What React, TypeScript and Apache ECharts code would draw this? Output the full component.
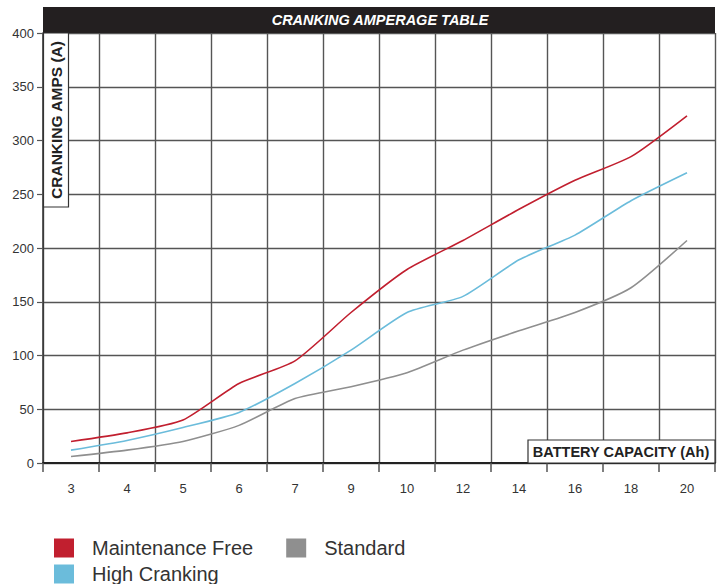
import React, { useEffect, useRef } from "react";
import * as echarts from "echarts";

const categories = ["3", "4", "5", "6", "7", "9", "10", "12", "14", "16", "18", "20"];
const maintenanceFree = [20, 28, 40, 74, 95, 140, 180, 207, 236, 263, 285, 323];
const highCranking = [12, 21, 33, 47, 74, 105, 140, 155, 189, 212, 244, 270];
const standard = [6, 12, 20, 35, 60, 71, 84, 105, 123, 140, 163, 207];

const FONT = "'Liberation Sans', Arial, sans-serif";

export default function App() {
  const ref = useRef<HTMLDivElement>(null);
  useEffect(() => {
    if (!ref.current) return;
    const chart = echarts.init(ref.current, undefined, { renderer: "svg" });
    chart.setOption({
      animation: false,
      backgroundColor: "#fff",
      textStyle: { fontFamily: FONT },
      grid: { left: 43, right: 11, top: 33, bottom: 121, containLabel: false },
      xAxis: {
        type: "category",
        data: categories,
        boundaryGap: true,
        axisLine: { show: true, lineStyle: { color: "#222", width: 2 } },
        axisTick: { show: true, length: 9, lineStyle: { color: "#555", width: 1.5 } },
        axisLabel: { color: "#333", fontSize: 13, margin: 19, fontFamily: FONT },
        splitLine: { show: true, lineStyle: { color: "#555", width: 1.4 } },
      },
      yAxis: {
        type: "value",
        min: 0,
        max: 400,
        interval: 50,
        axisLine: { show: true, lineStyle: { color: "#333", width: 1.5 } },
        axisTick: { show: true, length: 6, lineStyle: { color: "#555", width: 1.2 } },
        axisLabel: { color: "#333", fontSize: 13, margin: 9, fontFamily: FONT },
        splitLine: { show: true, lineStyle: { color: "#555", width: 1.4 } },
      },
      legend: [
        {
          data: ["Maintenance Free", "Standard"],
          left: 54,
          top: 538,
          padding: 0,
          orient: "horizontal",
          icon: "rect",
          itemWidth: 20,
          itemHeight: 19,
          itemGap: 33,
          selectedMode: false,
          textStyle: { color: "#333", fontSize: 20, fontFamily: FONT, padding: [0, 0, 0, 13] },
        },
        {
          data: ["High Cranking"],
          left: 54,
          top: 564,
          padding: 0,
          orient: "horizontal",
          icon: "rect",
          itemWidth: 20,
          itemHeight: 19,
          selectedMode: false,
          textStyle: { color: "#333", fontSize: 20, fontFamily: FONT, padding: [0, 0, 0, 13] },
        },
      ],
      series: [
        {
          name: "Standard",
          type: "line",
          data: standard,
          smooth: 0.2,
          symbol: "none",
          itemStyle: { color: "#8f8f8f" },
          lineStyle: { color: "#8f8f8f", width: 1.6 },
        },
        {
          name: "High Cranking",
          type: "line",
          data: highCranking,
          smooth: 0.2,
          symbol: "none",
          itemStyle: { color: "#6bbcdb" },
          lineStyle: { color: "#6bbcdb", width: 1.6 },
        },
        {
          name: "Maintenance Free",
          type: "line",
          data: maintenanceFree,
          smooth: 0.2,
          symbol: "none",
          itemStyle: { color: "#c11f2f" },
          lineStyle: { color: "#c11f2f", width: 1.6 },
        },
      ],
      graphic: [
        {
          type: "rect",
          z: 100,
          shape: { x: 43, y: 7, width: 672, height: 26 },
          style: { fill: "#231f20" },
        },
        {
          type: "text",
          z: 101,
          x: 380,
          y: 20,
          style: {
            text: "CRANKING AMPERAGE TABLE",
            fill: "#fff",
            font: "italic bold 14.5px 'Liberation Sans Narrow', 'Liberation Sans', Arial, sans-serif",
            align: "center",
            verticalAlign: "middle",
          },
        },
        {
          type: "rect",
          z: 100,
          shape: { x: 43.5, y: 33, width: 25, height: 174 },
          style: { fill: "#fff", stroke: "#333", lineWidth: 1.2 },
        },
        {
          type: "text",
          z: 101,
          x: 56,
          y: 120,
          rotation: Math.PI / 2,
          style: {
            text: "CRANKING AMPS (A)",
            fill: "#222",
            font: "bold 15.5px 'Liberation Sans', Arial, sans-serif",
            align: "center",
            verticalAlign: "middle",
          },
        },
        {
          type: "rect",
          z: 100,
          shape: { x: 528, y: 440, width: 187, height: 23 },
          style: { fill: "#fff", stroke: "#333", lineWidth: 1.2 },
        },
        {
          type: "text",
          z: 101,
          x: 621,
          y: 452,
          style: {
            text: "BATTERY CAPACITY (Ah)",
            fill: "#222",
            font: "bold 14.5px 'Liberation Sans', Arial, sans-serif",
            align: "center",
            verticalAlign: "middle",
          },
        },
      ],
    });
    return () => chart.dispose();
  }, []);
  return (
    <div
      ref={ref}
      style={{ position: "absolute", left: 0, top: 0, width: 726, height: 584 }}
    />
  );
}
